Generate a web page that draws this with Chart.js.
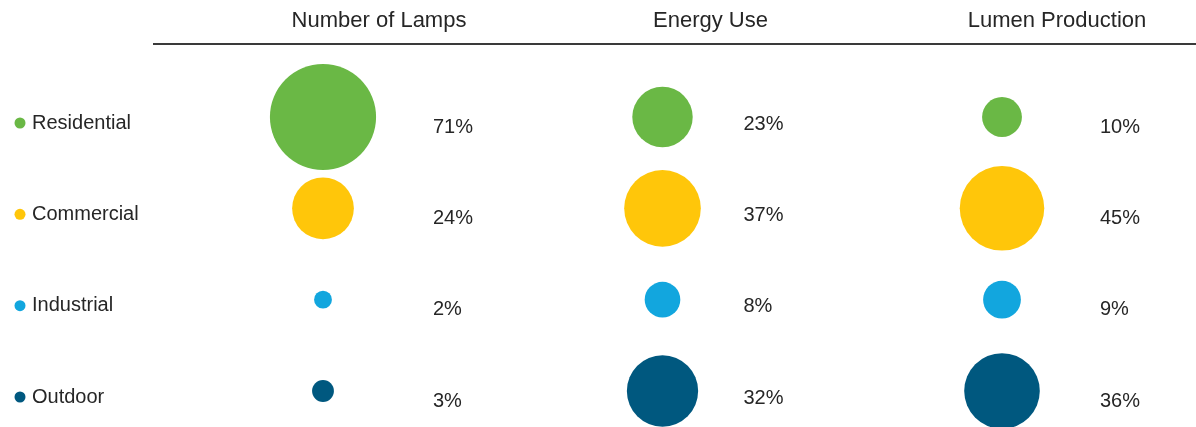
<!DOCTYPE html>
<html>
<head>
<meta charset="utf-8">
<script src="https://cdn.jsdelivr.net/npm/chart.js@4"></script>
<style>
  html, body { margin: 0; padding: 0; background: #ffffff; }
  #wrap { width: 1196px; height: 427px; position: relative; }
</style>
</head>
<body>
<div id="wrap"><canvas id="c" width="1196" height="427"></canvas></div>
<script>
// ---- data ----
const categories = ['Residential', 'Commercial', 'Industrial', 'Outdoor'];
const columns = ['Number of Lamps', 'Energy Use', 'Lumen Production'];
const numberOfLamps = [71, 24, 2, 3];
const energyUse = [23, 37, 8, 32];
const lumenProduction = [10, 45, 9, 36];

// ---- style ----
const seriesValues = [numberOfLamps, energyUse, lumenProduction];
const colors = ['#6AB845', '#FFC60A', '#12A6DE', '#00587F'];
const FONT = "'Liberation Sans', Arial, sans-serif";
const TEXT = '#262626';
const RADIUS_K = 6.3;                 // px radius per sqrt(percent)
const titleOffset = [56, 48, 55];     // title centre relative to bubble column
const labelOffset = [110, 81, 98];    // percent label left edge relative to bubble column
const labelDy = [10, 7, 10];

const datasets = categories.map((cat, i) => ({
  label: cat,
  data: columns.map((col, j) => ({ x: j, y: cat, v: seriesValues[j][i] })),
  backgroundColor: colors[i],
  borderWidth: 0,
  clip: false,
  radius: ctx => RADIUS_K * Math.sqrt(ctx.raw.v),
  hoverRadius: 0
}));

const decor = {
  id: 'decor',
  afterDatasetsDraw(chart) {
    const { ctx, scales: { x, y } } = chart;
    ctx.save();
    // header line
    ctx.strokeStyle = '#3a3a3a';
    ctx.lineWidth = 2;
    ctx.beginPath();
    ctx.moveTo(153, 44);
    ctx.lineTo(1196, 44);
    ctx.stroke();
    // column titles
    ctx.fillStyle = TEXT;
    ctx.textBaseline = 'middle';
    ctx.textAlign = 'center';
    ctx.font = '22px ' + FONT;
    columns.forEach((col, j) => {
      ctx.fillText(col, x.getPixelForValue(j) + titleOffset[j], 21);
    });
    // left legend
    ctx.textAlign = 'left';
    ctx.font = '20px ' + FONT;
    categories.forEach((cat, i) => {
      const py = y.getPixelForValue(i) + 6;
      ctx.fillStyle = colors[i];
      ctx.beginPath();
      ctx.arc(20, py, 5.5, 0, Math.PI * 2);
      ctx.fill();
      ctx.fillStyle = TEXT;
      ctx.fillText(cat, 32, py);
    });
    // percent labels
    ctx.font = '20px ' + FONT;
    columns.forEach((col, j) => {
      categories.forEach((cat, i) => {
        ctx.fillText(seriesValues[j][i] + '%',
          x.getPixelForValue(j) + labelOffset[j],
          y.getPixelForValue(i) + labelDy[j]);
      });
    });
    ctx.restore();
  }
};

new Chart(document.getElementById('c'), {
  type: 'bubble',
  data: { datasets },
  options: {
    responsive: false,
    animation: false,
    events: [],
    layout: { autoPadding: false, padding: { left: 153.25, right: 24.25, top: 117, bottom: 36 } },
    scales: {
      x: { type: 'linear', min: -0.5, max: 2.5, display: false },
      y: { type: 'category', labels: categories, offset: false, display: false }
    },
    plugins: { legend: { display: false }, tooltip: { enabled: false } }
  },
  plugins: [decor]
});
</script>
</body>
</html>
